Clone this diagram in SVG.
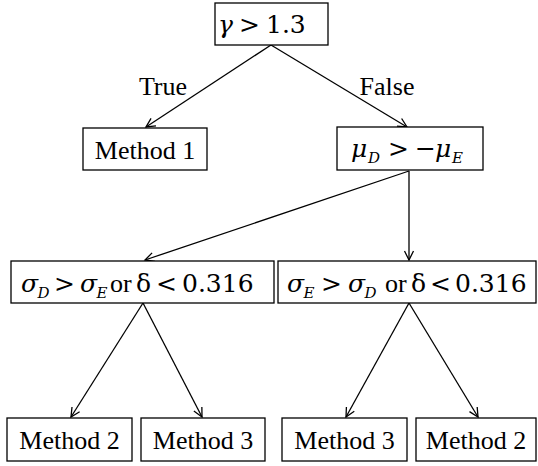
<svg xmlns="http://www.w3.org/2000/svg" width="538" height="466" viewBox="0 0 538 466">
<defs>
<style>
.box{fill:#fff;stroke:#000;stroke-width:1.3}
.t{font-family:"Liberation Serif","Times New Roman",serif;font-size:26px;fill:#000}
.m{font-family:"DejaVu Serif",serif;font-size:25px;fill:#000}
.i{font-style:italic}
.sub{font-style:italic;font-size:15px}
.rm{font-family:"Liberation Serif","Times New Roman",serif;font-size:26px}
.edge{stroke:#000;stroke-width:1.3;fill:none;marker-end:url(#ah)}
</style>
<marker id="ah" markerUnits="userSpaceOnUse" markerWidth="12" markerHeight="12" refX="10" refY="6" orient="auto">
<path d="M1,1.5 L10,6 L1,10.5" fill="none" stroke="#000" stroke-width="1.3"/>
</marker>
</defs>
<rect width="538" height="466" fill="#fff"/>
<g id="connectors">
<line class="edge" x1="271" y1="45" x2="146" y2="127"/>
<line class="edge" x1="271" y1="45" x2="407" y2="127"/>
<line class="edge" x1="409" y1="171" x2="145" y2="260"/>
<line class="edge" x1="409" y1="171" x2="409" y2="260"/>
<line class="edge" x1="143" y1="303" x2="71" y2="417"/>
<line class="edge" x1="143" y1="303" x2="202" y2="417"/>
<line class="edge" x1="409" y1="303" x2="346" y2="417"/>
<line class="edge" x1="409" y1="303" x2="478" y2="417"/>
<text class="t" x="163" y="95" text-anchor="middle">True</text>
<text class="t" x="387" y="95" text-anchor="middle">False</text>
</g>
<g id="root">
<rect class="box" x="215" y="3" width="113" height="42"/>
<text class="m" y="33"><tspan class="i" x="218">γ</tspan><tspan x="239">&gt;</tspan><tspan x="266">1.3</tspan></text>
</g>
<g id="method1">
<rect class="box" x="83" y="128" width="124" height="42"/>
<text class="t" x="145" y="159" text-anchor="middle">Method 1</text>
</g>
<g id="mu">
<rect class="box" x="337" y="127" width="146" height="43"/>
<text class="m" y="157"><tspan class="i" x="351">μ</tspan><tspan class="sub" x="368" y="163">D</tspan><tspan x="388" y="157">&gt;</tspan><tspan x="415">−</tspan><tspan class="i" x="435">μ</tspan><tspan class="sub" x="452" y="163">E</tspan></text>
</g>
<g id="sigma1">
<rect class="box" x="11" y="261" width="263" height="42"/>
<text class="m" y="292"><tspan class="i" x="21">σ</tspan><tspan class="sub" x="37.5" y="298">D</tspan><tspan x="54" y="292">&gt;</tspan><tspan class="i" x="80">σ</tspan><tspan class="sub" x="96.5" y="298">E</tspan><tspan class="rm" x="110" y="292">or</tspan><tspan x="136">δ</tspan><tspan x="156">&lt;</tspan><tspan x="182">0.316</tspan></text>
</g>
<g id="sigma2">
<rect class="box" x="278" y="261" width="258" height="42"/>
<text class="m" y="292"><tspan class="i" x="287">σ</tspan><tspan class="sub" x="303.5" y="298">E</tspan><tspan x="321" y="292">&gt;</tspan><tspan class="i" x="348">σ</tspan><tspan class="sub" x="364.5" y="298">D</tspan><tspan class="rm" x="385" y="292">or</tspan><tspan x="411">δ</tspan><tspan x="430">&lt;</tspan><tspan x="455">0.316</tspan></text>
</g>
<g id="method2a">
<rect class="box" x="7" y="418" width="125" height="43"/>
<text class="t" x="69.5" y="449" text-anchor="middle">Method 2</text>
</g>
<g id="method3a">
<rect class="box" x="141" y="418" width="124" height="43"/>
<text class="t" x="203" y="449" text-anchor="middle">Method 3</text>
</g>
<g id="method3b">
<rect class="box" x="282" y="418" width="125" height="43"/>
<text class="t" x="344.5" y="449" text-anchor="middle">Method 3</text>
</g>
<g id="method2b">
<rect class="box" x="416" y="418" width="120" height="43"/>
<text class="t" x="476" y="449" text-anchor="middle">Method 2</text>
</g>
</svg>
